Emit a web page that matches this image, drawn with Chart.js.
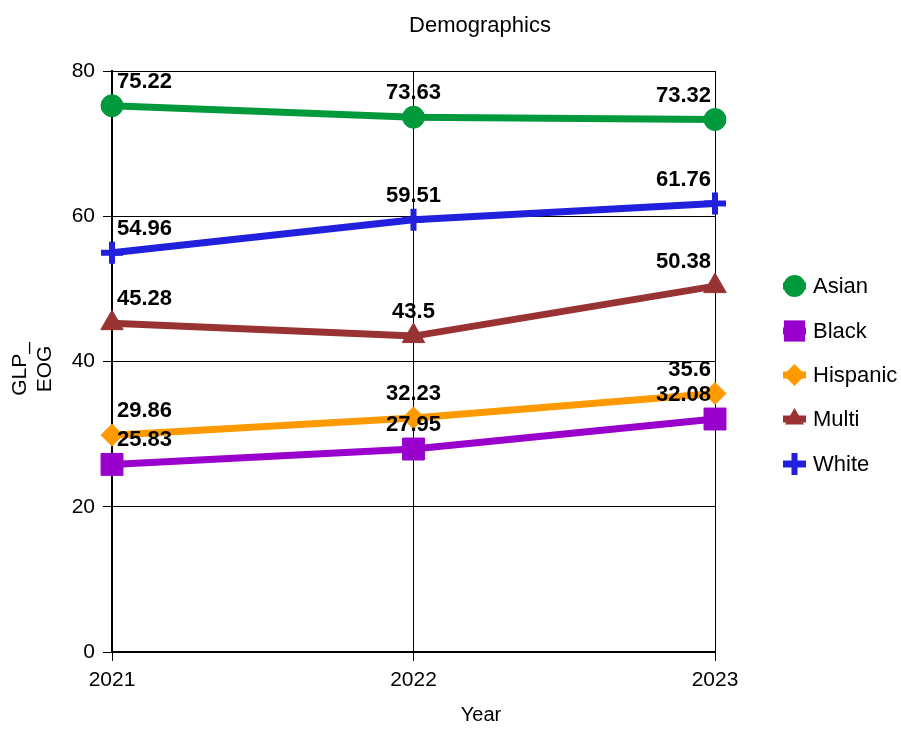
<!DOCTYPE html>
<html>
<head>
<meta charset="utf-8">
<title>Demographics</title>
<script src="https://cdn.jsdelivr.net/npm/chart.js@4/dist/chart.umd.min.js"></script>
<style>
  html, body { margin: 0; padding: 0; background: #ffffff; }
  #wrap { width: 901px; height: 729px; }
</style>
</head>
<body>
<div id="wrap"><canvas id="chart" width="901" height="729"></canvas></div>
<script>
// Years on the category axis
const years = ['2021', '2022', '2023'];

// GLP_EOG by demographic group
const asian    = [75.22, 73.63, 73.32];
const black    = [25.83, 27.95, 32.08];
const hispanic = [29.86, 32.23, 35.6];
const multi    = [45.28, 43.5, 50.38];
const white    = [54.96, 59.51, 61.76];

// Y axis ticks
const yTicks = [0, 20, 40, 60, 80];

const FONT = '"Liberation Sans", Arial, Helvetica, sans-serif';

const series = [
  { label: 'Asian',    data: asian,    color: '#009a3d', style: 'circle',   radius: 11 },
  { label: 'Black',    data: black,    color: '#9900cc', style: 'rect',     radius: 15.5 },
  { label: 'Hispanic', data: hispanic, color: '#ff9900', style: 'rectRot',  radius: 11 },
  { label: 'Multi',    data: multi,    color: '#993333', style: 'triangle', radius: 13 },
  { label: 'White',    data: white,    color: '#2020dd', style: 'cross',    radius: 11 }
];

// Value labels above each point: first left-aligned, middle centred, last right-aligned
const valueLabels = {
  id: 'valueLabels',
  afterDatasetsDraw(chart) {
    const ctx = chart.ctx;
    ctx.save();
    ctx.font = 'bold 22px ' + FONT;
    ctx.fillStyle = '#000';
    ctx.textBaseline = 'middle';
    chart.data.datasets.forEach((ds, di) => {
      const meta = chart.getDatasetMeta(di);
      meta.data.forEach((pt, i) => {
        const n = meta.data.length;
        let x = pt.x;
        if (i === 0) { ctx.textAlign = 'left'; x += 5; }
        else if (i === n - 1) { ctx.textAlign = 'right'; x -= 4; }
        else { ctx.textAlign = 'center'; }
        ctx.fillText(String(ds.data[i]), x, pt.y - 24);
      });
    });
    ctx.restore();
  }
};

function drawMarker(ctx, style, x, y, r, color) {
  ctx.save();
  ctx.fillStyle = color;
  ctx.strokeStyle = color;
  ctx.beginPath();
  if (style === 'circle') {
    ctx.arc(x, y, r, 0, Math.PI * 2);
    ctx.fill();
  } else if (style === 'rect') {
    const s = r * Math.SQRT1_2;
    ctx.fillRect(x - s, y - s, 2 * s, 2 * s);
  } else if (style === 'rectRot') {
    ctx.moveTo(x, y - r); ctx.lineTo(x + r, y); ctx.lineTo(x, y + r); ctx.lineTo(x - r, y);
    ctx.closePath(); ctx.fill();
  } else if (style === 'triangle') {
    ctx.moveTo(x, y - r);
    ctx.lineTo(x + r * Math.cos(Math.PI / 6), y + r / 2);
    ctx.lineTo(x - r * Math.cos(Math.PI / 6), y + r / 2);
    ctx.closePath(); ctx.fill();
  } else if (style === 'cross') {
    ctx.lineWidth = 6;
    ctx.moveTo(x - r, y); ctx.lineTo(x + r, y);
    ctx.moveTo(x, y - r); ctx.lineTo(x, y + r);
    ctx.stroke();
  }
  ctx.restore();
}

// Titles and legend laid out around the plot
const decorations = {
  id: 'decorations',
  afterDraw(chart) {
    const ctx = chart.ctx;
    ctx.save();
    ctx.fillStyle = '#000';
    ctx.textAlign = 'center';
    ctx.textBaseline = 'middle';
    ctx.font = '22px ' + FONT;
    ctx.fillText('Demographics', 480, 26);
    ctx.font = '20px ' + FONT;
    ctx.fillText('Year', 481, 715);

    // rotated y-axis title on two lines
    ctx.font = '21px ' + FONT;
    ctx.save();
    ctx.translate(20, 369);
    ctx.rotate(-Math.PI / 2);
    ctx.fillText('GLP_', 0, 0);
    ctx.fillText('EOG', 0, 25);
    ctx.restore();

    // legend
    ctx.font = '22px ' + FONT;
    const rowY = [286, 331, 375, 419, 464];
    series.forEach((s, i) => {
      const y = rowY[i];
      ctx.save();
      ctx.strokeStyle = s.color;
      ctx.lineWidth = 7;
      ctx.beginPath();
      ctx.moveTo(783, y); ctx.lineTo(806, y);
      ctx.stroke();
      ctx.restore();
      drawMarker(ctx, s.style, 794.5, y, s.style === 'rect' ? 15 : 11, s.color);
      ctx.fillStyle = '#000';
      ctx.textAlign = 'left';
      ctx.fillText(s.label, 813, y + 1);
    });
    ctx.restore();
  }
};

new Chart(document.getElementById('chart'), {
  type: 'line',
  data: {
    labels: years,
    datasets: series.map(s => ({
      label: s.label,
      data: s.data,
      borderColor: s.color,
      backgroundColor: s.color,
      borderWidth: 7,
      tension: 0,
      pointStyle: s.style,
      pointRadius: s.radius,
      pointHoverRadius: s.radius,
      pointBorderWidth: s.style === 'cross' ? 6 : 1,
      pointBackgroundColor: s.color,
      pointBorderColor: s.color
    }))
  },
  options: {
    responsive: false,
    animation: false,
    events: [],
    layout: { padding: { left: 0, right: 186, top: 71, bottom: 0 } },
    plugins: {
      legend: { display: false },
      title: { display: false },
      tooltip: { enabled: false }
    },
    scales: {
      x: {
        type: 'category',
        offset: false,
        grid: { color: '#000', lineWidth: 1, tickLength: 9, drawOnChartArea: true },
        border: { display: true, color: '#000', width: 2 },
        ticks: { color: '#000', font: { family: FONT, size: 21 }, padding: 7, maxRotation: 0 },
        afterFit(scale) { scale.height = 77; }
      },
      y: {
        min: 0,
        max: 80,
        afterBuildTicks(scale) { scale.ticks = yTicks.map(v => ({ value: v })); },
        grid: { color: '#000', lineWidth: 1, tickLength: 9 },
        border: { display: true, color: '#000', width: 2 },
        ticks: { color: '#000', font: { family: FONT, size: 21 }, padding: 8 },
        afterFit(scale) { scale.width = 112; }
      }
    }
  },
  plugins: [valueLabels, decorations]
});
</script>
</body>
</html>
